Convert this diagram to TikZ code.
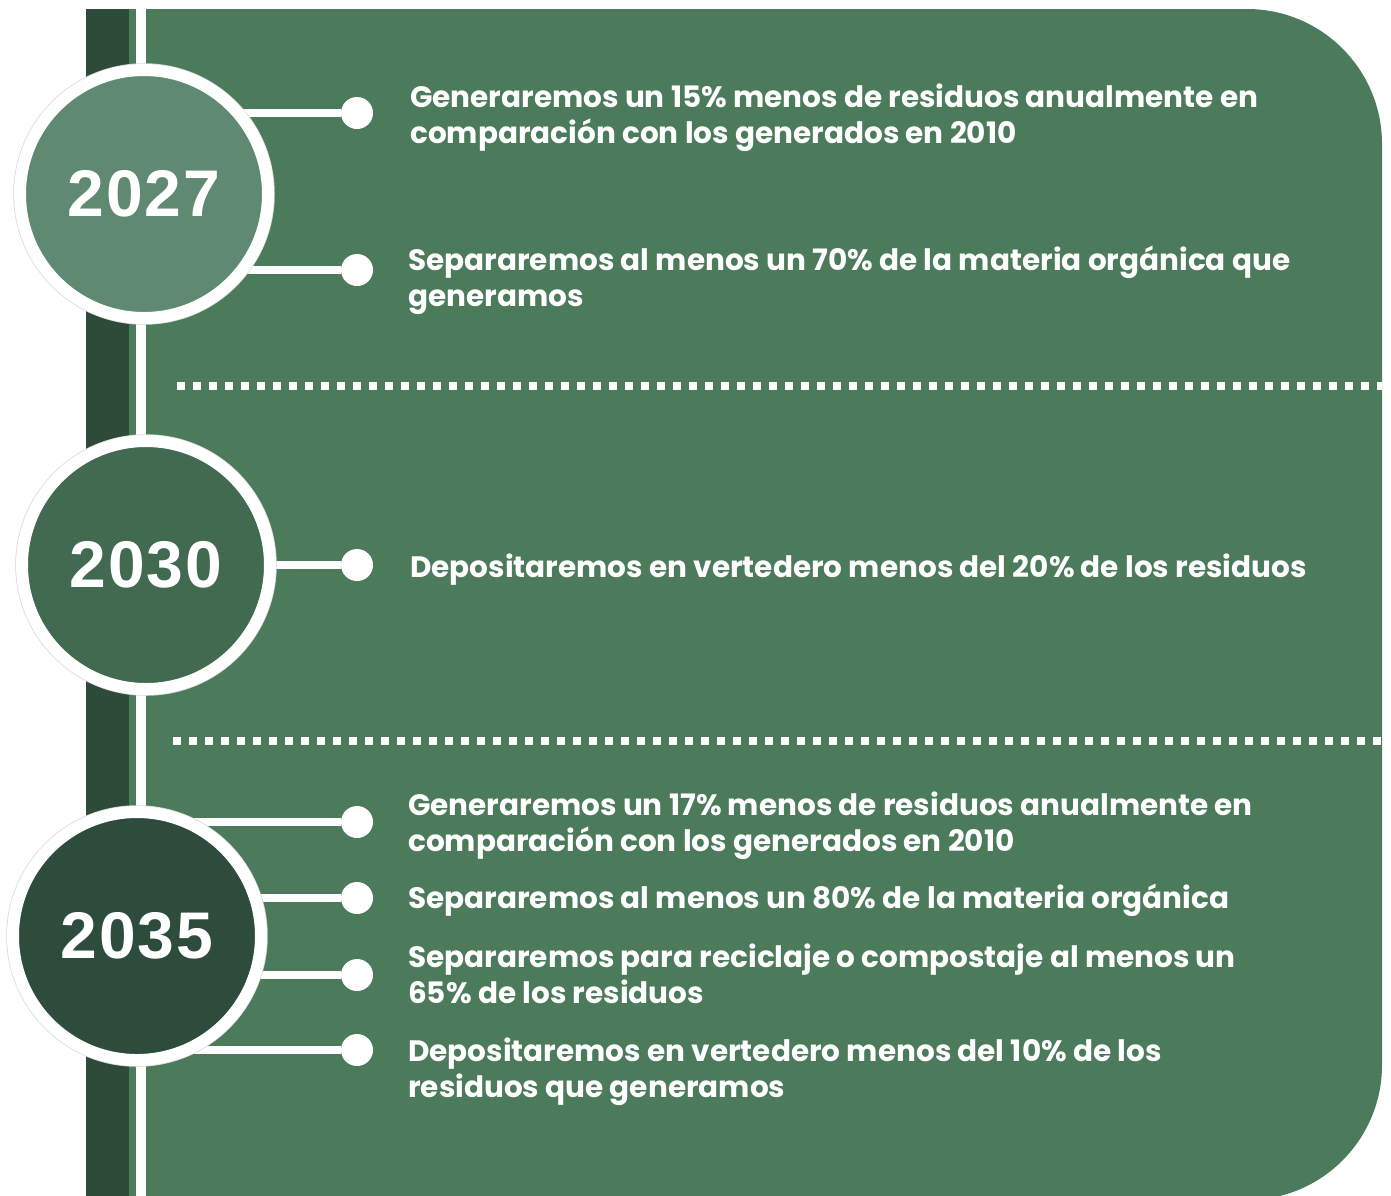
\documentclass[tikz,border=0pt]{standalone}
\usepackage{fontspec}
\setmainfont{Poppins}
\newfontfamily\yearfont[LetterSpace=3]{Liberation Sans}
\usepackage{tikz}
\usetikzlibrary{positioning}
\definecolor{PanelGreen}{HTML}{4C7B5C}
\definecolor{BarGreen}{HTML}{2E4B3A}
\definecolor{PaleGreen}{HTML}{5F8A71}
\definecolor{MidGreen}{HTML}{416A51}
\definecolor{DeepGreen}{HTML}{2E4C3C}

\tikzset{
	yearcirc/.style={circle, minimum size=248pt, inner sep=0pt, draw=white, line width=12pt,
		preaction={draw=black!15, line width=13.5pt}, text=white,
		font={\yearfont\bfseries\fontsize{66}{66}\selectfont}},
	dot/.style={circle, fill=white, minimum size=32pt, inner sep=0pt},
	conn/.style={white, line width=8pt},
	goal/.style={anchor=base west, inner sep=0pt, align=left, text=white,
		font={\bfseries\fontsize{29.5}{36}\selectfont}},
	sepline/.style={white, line width=8pt, dash pattern=on 8pt off 8pt},
}

\begin{document}
\begin{tikzpicture}[x=1pt, y=-1pt]
				\useasboundingbox (0,0) rectangle (1391,1195);
				\clip (0,0) rectangle (1391,1195);

				% panel and bar
				\fill[PanelGreen, rounded corners=135pt] (129,9) rectangle (1382,1200);
				\fill[PanelGreen] (129,9) rectangle (600,1200);
				\fill[BarGreen] (86,9) rectangle (129,1200);
				\fill[white] (136,9) rectangle (146,1200);

				% separators
				\draw[sepline] (177,386) -- (1382,386);
				\draw[sepline] (173,741) -- (1382,741);

				\coordinate (c2027) at (144,194);
				\coordinate (c2030) at (146,565);
				\coordinate (c2035) at (137,936);

				% dots and connectors
				\foreach \yy/\cc [count=\i] in {113/c2027, 270/c2027, 565/c2030, 822/c2035, 898/c2035, 975/c2035, 1050/c2035} {
					\node[dot] (d\i) at (357,\yy) {};
					\draw[conn] (\cc |- d\i) -- (d\i);
				}

				% years
				\node[yearcirc, fill=PaleGreen] (y2027) at (c2027) {2027};
				\node[yearcirc, fill=MidGreen] (y2030) at (c2030) {2030};
				\node[yearcirc, fill=DeepGreen] (y2035) at (c2035) {2035};

				% goals (base = last line)
				\node[goal] (t1) at (410,143) {Generaremos un 15\% menos de residuos anualmente en\\comparación con los generados en 2010};
				\node[goal] (t2) at (408,306) {Separaremos al menos un 70\% de la materia orgánica que\\generamos};
				\node[goal] (t3) at (410,577) {Depositaremos en vertedero menos del 20\% de los residuos};
				\node[goal] (t4) at (408,851) {Generaremos un 17\% menos de residuos anualmente en\\comparación con los generados en 2010};
				\node[goal] (t5) at (408,908) {Separaremos al menos un 80\% de la materia orgánica};
				\node[goal] (t6) at (408,1003) {Separaremos para reciclaje o compostaje al menos un\\65\% de los residuos};
				\node[goal] (t7) at (408,1097) {Depositaremos en vertedero menos del 10\% de los\\residuos que generamos};
\end{tikzpicture}
\end{document}
